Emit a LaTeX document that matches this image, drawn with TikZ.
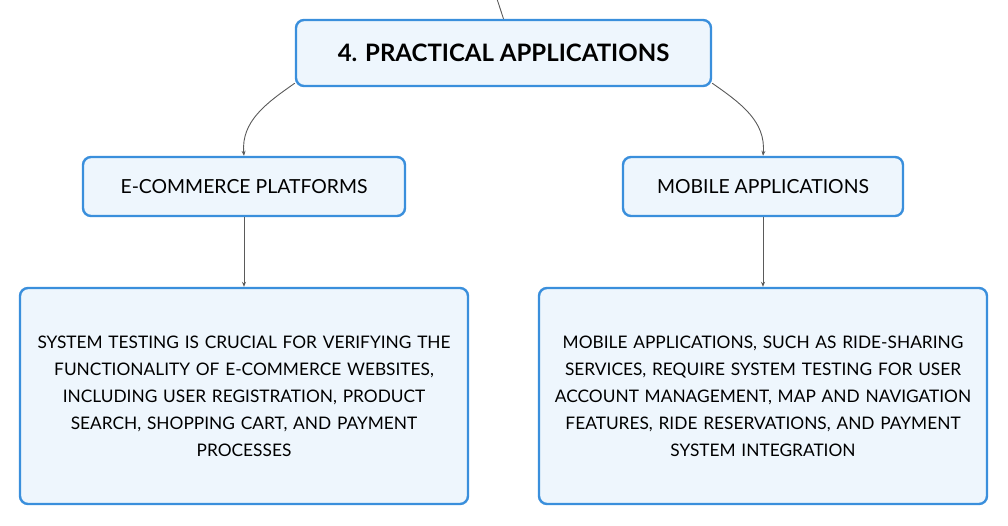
\documentclass[tikz,border=0pt]{standalone}
\usepackage{fontspec}
\setmainfont{Lato}
\usetikzlibrary{arrows.meta,positioning}
\definecolor{boxline}{HTML}{3A8FDC}
\definecolor{boxfill}{HTML}{EEF6FD}
\definecolor{linkgray}{HTML}{5A5A5A}
\begin{document}
\begin{tikzpicture}[x=1pt,y=-1pt,
  every box/.style = {draw=boxline, line width=2.4pt, fill=boxfill,
                      rounded corners=8pt, align=center, inner sep=0pt},
  topic/.style     = {every box, minimum width=415pt, minimum height=66pt,
                      font=\fontsize{24}{28}\selectfont\bfseries},
  subtopic/.style  = {every box, minimum height=59pt,
                      font=\fontsize{19.4}{23}\selectfont},
  leaf/.style      = {every box, minimum width=448pt, minimum height=216pt,
                      text width=436pt, font=\fontsize{17.3}{27}\selectfont},
  link/.style      = {draw=linkgray, line width=0.9pt,
                      -{Stealth[length=5pt,width=4pt]}}]
  \useasboundingbox (0,0) rectangle (1008,526);
  % main topic
  \node[topic] (practical) at (503.5,53) {4. PRACTICAL APPLICATIONS};
  \coordinate (incoming) at (497,-1);
  \draw[draw=linkgray, line width=0.9pt] (incoming) -- (practical.north);
  % subtopics
  \node[subtopic, minimum width=322pt] (ecommerce) at (244,186.5) {E-COMMERCE PLATFORMS};
  \node[subtopic, minimum width=280pt] (mobile) at (763,186.5) {MOBILE APPLICATIONS};
  % details
  \node[leaf] (ecommerceText) at (244,396) {SYSTEM TESTING IS CRUCIAL FOR VERIFYING THE\\
    FUNCTIONALITY OF E-COMMERCE WEBSITES,\\ INCLUDING USER REGISTRATION, PRODUCT\\
    SEARCH, SHOPPING CART, AND PAYMENT\\ PROCESSES};
  \node[leaf] (mobileText) at (763,396) {MOBILE APPLICATIONS, SUCH AS RIDE-SHARING\\
    SERVICES, REQUIRE SYSTEM TESTING FOR USER\\ ACCOUNT MANAGEMENT, MAP AND NAVIGATION\\
    FEATURES, RIDE RESERVATIONS, AND PAYMENT\\ SYSTEM INTEGRATION};
  % connectors
  \draw[link] (practical.south west) ++(0,-4) to[out=215,in=95] (ecommerce.north);
  \draw[link] (practical.south east) ++(0,-4) to[out=-35,in=85] (mobile.north);
  \draw[link] (ecommerce) -- (ecommerceText);
  \draw[link] (mobile) -- (mobileText);
\end{tikzpicture}
\end{document}
